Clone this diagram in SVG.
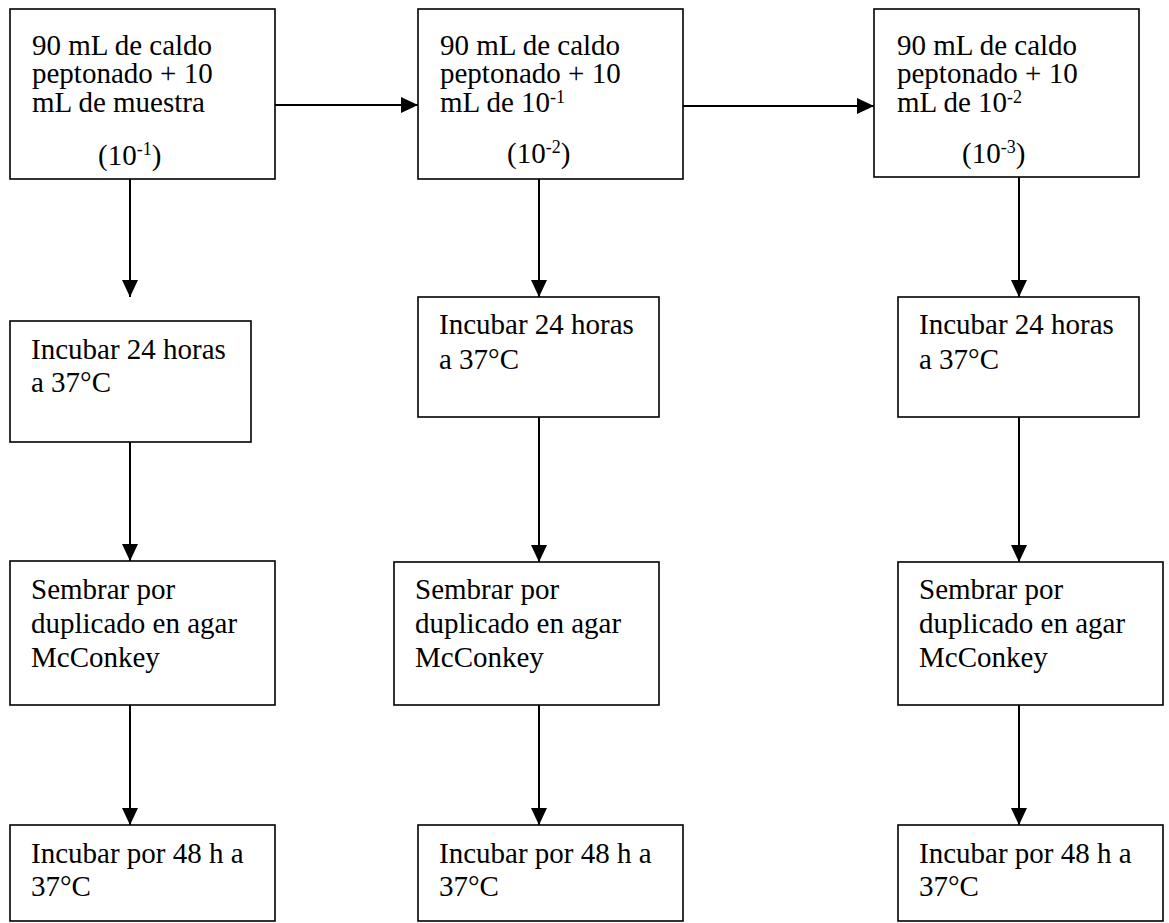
<svg xmlns="http://www.w3.org/2000/svg" width="1169" height="923" viewBox="0 0 1169 923">
<style>
  .box { fill: #ffffff; stroke: #000000; stroke-width: 1.6; }
  .t { font-family: "Liberation Serif", "Times New Roman", serif; font-size: 29px; fill: #000000; }
  .sup { font-size: 18px; }
  .conn line { stroke: #000000; stroke-width: 2; }
</style>
<defs>
  <marker id="ah" markerUnits="userSpaceOnUse" markerWidth="18" markerHeight="16" refX="17" refY="8" orient="auto">
    <path d="M0,0 L17,8 L0,16 z" fill="#000000"/>
  </marker>
</defs>
<rect width="1169" height="923" fill="#ffffff"/>

<g id="connectors" class="conn">
  <line x1="275" y1="105" x2="418" y2="105" marker-end="url(#ah)"/>
  <line x1="683" y1="106" x2="874" y2="106" marker-end="url(#ah)"/>
  <line x1="130" y1="179" x2="130" y2="297" marker-end="url(#ah)"/>
  <line x1="130" y1="442" x2="130" y2="561" marker-end="url(#ah)"/>
  <line x1="130" y1="705" x2="130" y2="825" marker-end="url(#ah)"/>
  <line x1="539" y1="179" x2="539" y2="297" marker-end="url(#ah)"/>
  <line x1="539" y1="417" x2="539" y2="562" marker-end="url(#ah)"/>
  <line x1="539" y1="705" x2="539" y2="825" marker-end="url(#ah)"/>
  <line x1="1019" y1="177" x2="1019" y2="297" marker-end="url(#ah)"/>
  <line x1="1019" y1="417" x2="1019" y2="562" marker-end="url(#ah)"/>
  <line x1="1019" y1="705" x2="1019" y2="825" marker-end="url(#ah)"/>
</g>

<g id="n1">
  <rect class="box" x="10" y="9" width="265" height="170"/>
  <text class="t" x="32" y="55">90 mL de caldo</text>
  <text class="t" x="32" y="83">peptonado + 10</text>
  <text class="t" x="32" y="112">mL de muestra</text>
  <text class="t" x="98" y="165">(10<tspan class="sup" dy="-10">-1</tspan><tspan dy="10">)</tspan></text>
</g>
<g id="n2">
  <rect class="box" x="418" y="9" width="265" height="170"/>
  <text class="t" x="440" y="55">90 mL de caldo</text>
  <text class="t" x="440" y="83">peptonado + 10</text>
  <text class="t" x="440" y="112">mL de 10<tspan class="sup" dy="-9">-1</tspan></text>
  <text class="t" x="507" y="163">(10<tspan class="sup" dy="-10">-2</tspan><tspan dy="10">)</tspan></text>
</g>
<g id="n3">
  <rect class="box" x="874" y="9" width="265" height="168"/>
  <text class="t" x="897" y="55">90 mL de caldo</text>
  <text class="t" x="897" y="83">peptonado + 10</text>
  <text class="t" x="897" y="112">mL de 10<tspan class="sup" dy="-9">-2</tspan></text>
  <text class="t" x="962" y="163">(10<tspan class="sup" dy="-10">-3</tspan><tspan dy="10">)</tspan></text>
</g>

<g id="n4">
  <rect class="box" x="10" y="321" width="241" height="121"/>
  <text class="t" x="31" y="359">Incubar 24 horas</text>
  <text class="t" x="31" y="392">a 37°C</text>
</g>
<g id="n5">
  <rect class="box" x="418" y="297" width="241" height="120"/>
  <text class="t" x="439" y="334">Incubar 24 horas</text>
  <text class="t" x="439" y="369">a 37°C</text>
</g>
<g id="n6">
  <rect class="box" x="898" y="297" width="241" height="120"/>
  <text class="t" x="919" y="334">Incubar 24 horas</text>
  <text class="t" x="919" y="369">a 37°C</text>
</g>

<g id="n7">
  <rect class="box" x="10" y="561" width="265" height="144"/>
  <text class="t" x="31" y="599">Sembrar por</text>
  <text class="t" x="31" y="633">duplicado en agar</text>
  <text class="t" x="31" y="667">McConkey</text>
</g>
<g id="n8">
  <rect class="box" x="394" y="562" width="265" height="143"/>
  <text class="t" x="415" y="599">Sembrar por</text>
  <text class="t" x="415" y="633">duplicado en agar</text>
  <text class="t" x="415" y="667">McConkey</text>
</g>
<g id="n9">
  <rect class="box" x="898" y="562" width="265" height="143"/>
  <text class="t" x="919" y="599">Sembrar por</text>
  <text class="t" x="919" y="633">duplicado en agar</text>
  <text class="t" x="919" y="667">McConkey</text>
</g>

<g id="n10">
  <rect class="box" x="10" y="825" width="265" height="96"/>
  <text class="t" x="31" y="863">Incubar por 48 h a</text>
  <text class="t" x="31" y="896">37°C</text>
</g>
<g id="n11">
  <rect class="box" x="418" y="825" width="265" height="96"/>
  <text class="t" x="439" y="863">Incubar por 48 h a</text>
  <text class="t" x="439" y="896">37°C</text>
</g>
<g id="n12">
  <rect class="box" x="898" y="825" width="265" height="96"/>
  <text class="t" x="919" y="863">Incubar por 48 h a</text>
  <text class="t" x="919" y="896">37°C</text>
</g>
</svg>
